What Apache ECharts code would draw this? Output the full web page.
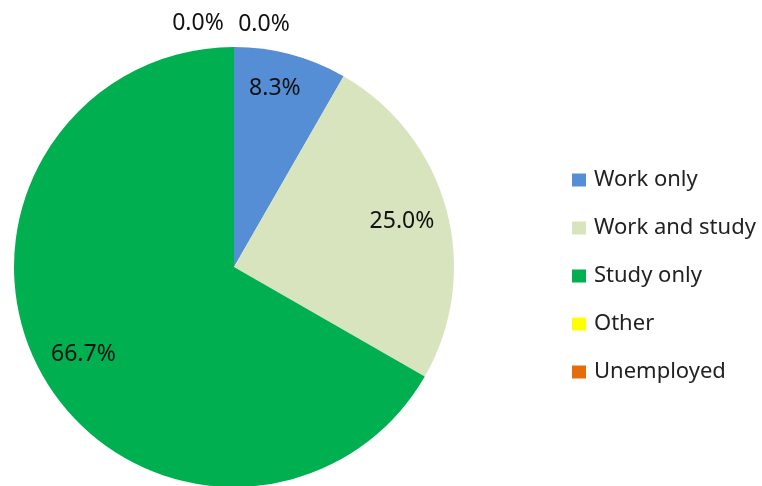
<!DOCTYPE html>
<html>
<head>
<meta charset="utf-8">
<title>Pie</title>
<script src="https://cdn.jsdelivr.net/npm/echarts@6/dist/echarts.min.js"></script>
<style>
  html, body { margin: 0; padding: 0; background: #fff; }
  #main { width: 762px; height: 486px; }
</style>
</head>
<body>
<div id="main"></div>
<script>
// categories and shares (%)
var categories = ['Work only', 'Work and study', 'Study only', 'Other', 'Unemployed'];
var shares = [8.3, 25.0, 66.7, 0.0, 0.0];
var colors = ['#558ED5', '#D7E4BD', '#00B050', '#FFFF00', '#E46C0A'];

var chart = echarts.init(document.getElementById('main'), null, { renderer: 'canvas' });

// label nudges, Excel "best fit" spots
var labelOffsets = [[-4, -10], [0, 0], [0, 0], [-36, -70], [30, -69]];

function getOption() {
  var fillData = categories.map(function (name, i) {
    return { name: name, value: shares[i], itemStyle: { color: colors[i] } };
  });
  var labelData = categories.map(function (name, i) {
    return {
      name: name,
      value: shares[i],
      label: { offset: labelOffsets[i] }
    };
  });
  return {
    animation: false,
    backgroundColor: '#fff',
    legend: {
      orient: 'vertical',
      left: 567,
      top: 162,
      itemWidth: 14,
      itemHeight: 13,
      itemGap: 22,
      icon: 'rect',
      data: categories,
      textStyle: {
        fontFamily: 'Noto Sans',
        fontSize: 22,
        color: '#222',
        lineHeight: 26,
        padding: [0, 0, 0, 3]
      }
    },
    series: [
      {
        name: 'fill',
        type: 'pie',
        center: [234, 267],
        radius: 220,
        startAngle: 90,
        clockwise: true,
        silent: true,
        label: { show: false },
        labelLine: { show: false },
        itemStyle: { borderWidth: 0 },
        data: fillData
      },
      {
        name: 'labels',
        type: 'pie',
        center: [234, 267],
        radius: [122, 220],
        startAngle: 90,
        clockwise: true,
        silent: true,
        itemStyle: { color: 'rgba(0,0,0,0)', borderWidth: 0 },
        labelLine: { show: false },
        label: {
          show: true,
          position: 'inside',
          fontFamily: 'Noto Sans',
          fontSize: 23,
          color: '#111',
          formatter: function (p) { return p.value.toFixed(1) + '%'; }
        },
        data: labelData
      }
    ]
  };
}

chart.setOption(getOption());
</script>
</body>
</html>
